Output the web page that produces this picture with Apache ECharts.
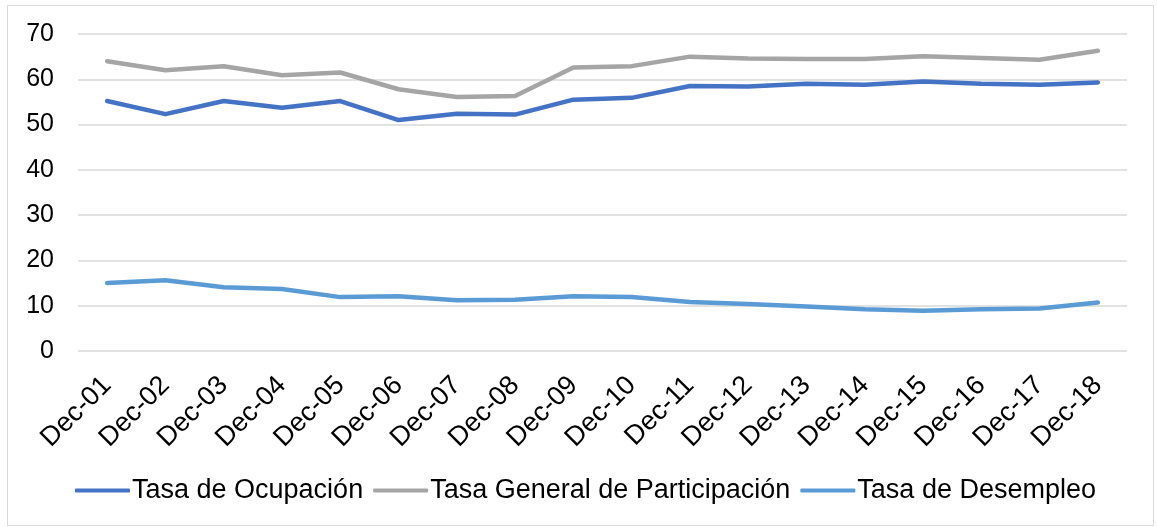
<!DOCTYPE html>
<html>
<head>
<meta charset="utf-8">
<script src="https://cdn.jsdelivr.net/npm/echarts@6/dist/echarts.min.js"></script>
<style>
  html, body { margin: 0; padding: 0; background: #fff; }
  #wrap { position: relative; width: 1157px; height: 527px; }
  #chart { width: 1157px; height: 527px; }
  .frame {
    position: absolute; left: 7px; top: 5px; width: 1145px; height: 519px;
    border: 1px solid #d9d9d9; pointer-events: none;
  }
</style>
</head>
<body>
<div id="wrap">
  <div id="chart"></div>
  <div class="frame"></div>
</div>
<script>
// categorias (eje x)
const years = ['Dec-01', 'Dec-02', 'Dec-03', 'Dec-04', 'Dec-05', 'Dec-06', 'Dec-07', 'Dec-08', 'Dec-09',
  'Dec-10', 'Dec-11', 'Dec-12', 'Dec-13', 'Dec-14', 'Dec-15', 'Dec-16', 'Dec-17', 'Dec-18']

// series
const ocupacion = [55.2, 52.3, 55.2, 53.7, 55.2, 51.0, 52.4, 52.2, 55.5, 55.9, 58.5, 58.4, 59.0, 58.8, 59.5, 59.0, 58.8, 59.3]
const participacion = [64.0, 62.0, 62.9, 60.9, 61.5, 57.8, 56.1, 56.3, 62.6, 62.9, 65.0, 64.6, 64.5, 64.5, 65.1, 64.7, 64.3, 66.3]
const desempleo = [15.0, 15.6, 14.1, 13.7, 11.9, 12.1, 11.2, 11.3, 12.1, 11.9, 10.8, 10.4, 9.8, 9.2, 8.9, 9.2, 9.4, 10.7]

const names = ['Tasa de Ocupación', 'Tasa General de Participación', 'Tasa de Desempleo']
const colors = ['#4472c4', '#a5a5a5', '#5b9bd5']

let myChart = echarts.init(document.getElementById('chart'))

function lineSeries (name, data, color) {
  return {
    name: name,
    type: 'line',
    data: data,
    symbol: 'none',
    smooth: false,
    lineStyle: { width: 4.5, color: color, cap: 'round', join: 'round' },
    itemStyle: { color: color }
  }
}

myChart.setOption({
  animation: false,
  textStyle: { fontFamily: 'Liberation Sans, Arial, sans-serif' },
  grid: { left: 78, right: 30, top: 34, bottom: 176 },
  legend: {
    bottom: 18,
    left: 70,
    itemWidth: 55,
    itemHeight: 4,
    itemGap: 10,
    icon: 'roundRect',
    textStyle: { fontSize: 27, color: '#000', padding: [0, 0, 0, -3] },
    data: names
  },
  xAxis: {
    type: 'category',
    data: years,
    boundaryGap: true,
    axisLine: { show: false },
    axisTick: { show: false },
    axisLabel: { rotate: 45, fontSize: 27, color: '#000', margin: 30, interval: 0 }
  },
  yAxis: {
    type: 'value',
    min: 0,
    max: 70,
    interval: 10,
    axisLine: { show: false },
    axisTick: { show: false },
    axisLabel: { fontSize: 25, color: '#000', margin: 24 },
    splitLine: { lineStyle: { color: '#d9d9d9', width: 1.5 } }
  },
  series: [
    lineSeries(names[0], ocupacion, colors[0]),
    lineSeries(names[1], participacion, colors[1]),
    lineSeries(names[2], desempleo, colors[2])
  ]
})
</script>
</body>
</html>
